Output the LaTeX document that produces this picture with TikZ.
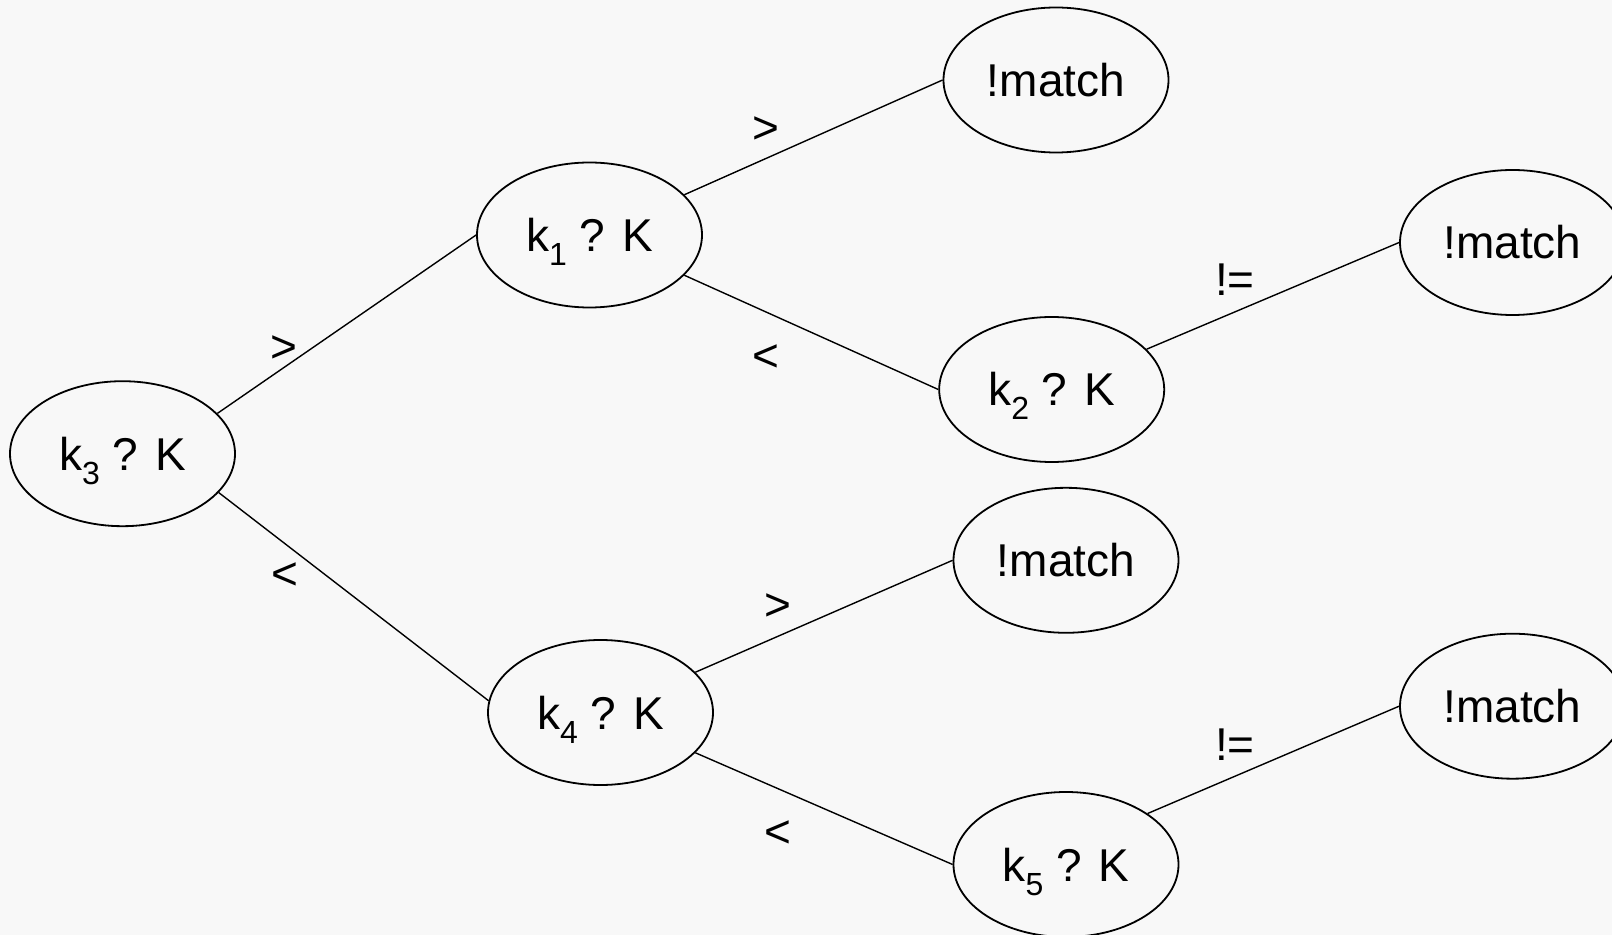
\documentclass[tikz,border=0pt]{standalone}
\usepackage{fontspec}
\setmainfont{Liberation Sans}
\usetikzlibrary{shapes.geometric}
\definecolor{bgc}{RGB}{248,248,248}
\newcommand{\ksub}[1]{\raisebox{-7pt}{\fontsize{16pt}{16pt}\selectfont #1}}
\begin{document}
\begin{tikzpicture}[x=0.5pt,y=-0.5pt,
  state/.style={ellipse,draw=black,line width=0.9pt,inner sep=0pt,
    minimum width=112.5pt,minimum height=72.5pt,
    font=\fontsize{23pt}{27pt}\selectfont,text height=16.5pt,text depth=0pt},
  lbl/.style={inner sep=0pt,font=\fontsize{23pt}{27pt}\selectfont},
  edge/.style={draw=black,line width=0.7pt}]
\useasboundingbox (0,0) rectangle (1612,935);
\fill[bgc] (0,0) rectangle (1612,935);
\clip (0,0) rectangle (1612,935);
\node[state] (k3) at (122.5,453.7) {k\ksub{3} ? K};
\node[state] (k1) at (589.5,235) {k\ksub{1} ? K};
\node[state] (k2) at (1051.7,389.5) {k\ksub{2} ? K};
\node[state] (k4) at (600.5,712.5) {k\ksub{4} ? K};
\node[state] (k5) at (1066,864.5) {k\ksub{5} ? K};
\node[state] (m1) at (1056,80) {!match};
\node[state] (m2) at (1512.5,242.5) {!match};
\node[state] (m3) at (1066,560.3) {!match};
\node[state] (m4) at (1512.5,706.2) {!match};
\draw[edge] (k3.23) -- (k1.west);
\draw[edge] (k3.-22) -- (k4.174);
\draw[edge] (k1.23) -- (m1.west);
\draw[edge] (k1.-23) -- (k2.west);
\draw[edge] (k2.23) -- (m2.west);
\draw[edge] (k4.23) -- (m3.west);
\draw[edge] (k4.-23) -- (k5.west);
\draw[edge] (k5.32) -- (m4.west);
\node[lbl] (l1) at (284,349) {>};
\node[lbl] (l2) at (284.7,576.3) {<};
\node[lbl] (l3) at (766,130.5) {>};
\node[lbl] (l4) at (766,357.7) {<};
\node[lbl] (l5) at (1235,279.7) {!=};
\node[lbl] (l6) at (778,607.5) {>};
\node[lbl] (l7) at (778,833.6) {<};
\node[lbl] (l8) at (1235,744.5) {!=};
\end{tikzpicture}
\end{document}
